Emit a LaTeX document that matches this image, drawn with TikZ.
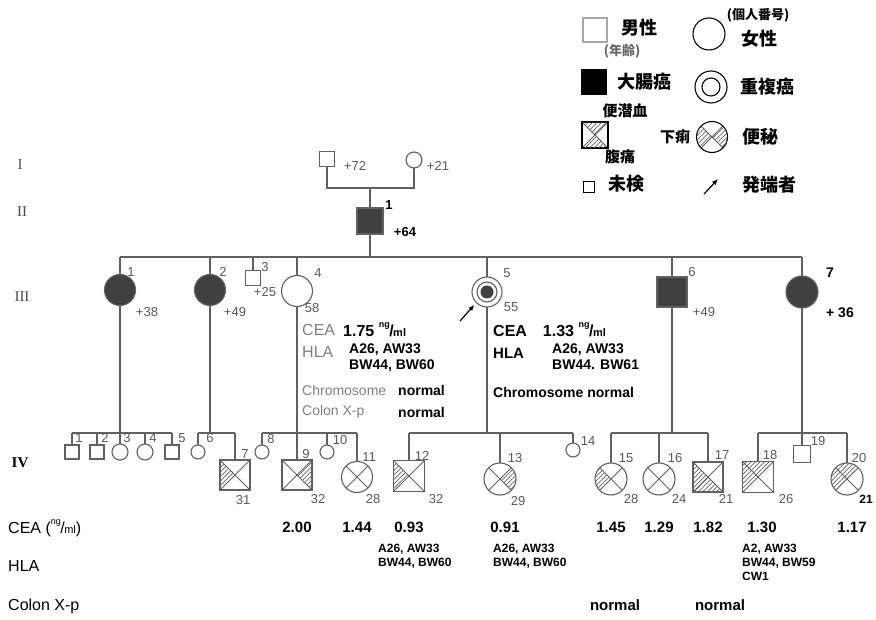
\documentclass[tikz,border=0pt]{standalone}
\usepackage{fontspec}
\setmainfont{Liberation Sans}
\newfontfamily\cjk{Noto Sans CJK JP}
\newfontfamily\romfont{Liberation Serif}
\usepackage{xcolor}
\definecolor{pedline}{gray}{0.38}
\definecolor{affected}{gray}{0.25}
\usetikzlibrary{arrows.meta, patterns.meta, positioning}
\newcommand\ngml{\raisebox{.55em}{\fontsize{9}{9}\selectfont ng}\kern-.5pt/\kern-.5pt{\fontsize{11}{11}\selectfont ml}}

\begin{document}
\begin{tikzpicture}[x=1pt, y=1pt,
	line/.style={draw=pedline, line width=1.1pt},
	male/.style={rectangle, draw=pedline, line width=1.1pt, minimum size=30pt, inner sep=0pt, outer sep=0pt},
	female/.style={circle, draw=pedline, line width=1.1pt, minimum size=31pt, inner sep=0pt, outer sep=0pt},
	small/.style={minimum size=15pt},
	ca/.style={fill=affected},
	xmark/.style={path picture={\draw[pedline, line width=1pt]
		(path picture bounding box.north west) -- (path picture bounding box.south east)
		(path picture bounding box.north east) -- (path picture bounding box.south west);}},
	hatch/.style={pattern={Lines[angle=45, distance=3.2pt, line width=0.7pt]}, pattern color=pedline},
	gen/.style={font=\romfont\fontsize{15}{16}\selectfont, text=black!70},
	lbl/.style={font=\fontsize{13}{14}\selectfont, text=black!65, inner sep=0pt},
	typed/.style={font=\fontsize{16}{18}\selectfont, text=black!50, inner sep=0pt, anchor=west},
	hand/.style={font=\bfseries\fontsize{14}{16}\selectfont, inner sep=0pt, anchor=west},
	hla/.style={font=\bfseries\fontsize{12}{14}\selectfont, inner sep=0pt, anchor=north west, align=left},
	val/.style={font=\bfseries\fontsize{15}{17}\selectfont, inner sep=0pt},
	jp/.style={font=\cjk\bfseries\fontsize{18}{20}\selectfont, inner sep=0pt},
	jps/.style={font=\cjk\bfseries\fontsize{15}{17}\selectfont, inner sep=0pt},
	proband/.style={draw=black, line width=1.2pt, -{Latex[length=6pt, width=5pt]}}
	]
\useasboundingbox (0,0) rectangle (876,-620);

% legend
\node[male, draw=black!35, minimum size=24pt] (lgm) at (595,-30) {};
\node[jp] (lgmt) at (639,-28) {男性};
\node[jps, text=black!60, font=\cjk\bfseries\fontsize{13}{14}\selectfont] (lgma) at (622,-51) {(年齢)};
\node[female, draw=black, minimum size=32pt] (lgf) at (709,-34) {};
\node[jps, font=\cjk\bfseries\fontsize{13}{14}\selectfont] (lgfn) at (758,-15) {(個人番号)};
\node[jp] (lgft) at (759,-39) {女性};
\node[male, draw=black, fill=black, minimum size=25pt] (lga) at (594,-82) {};
\node[jp] (lgat) at (644,-82) {大腸癌};
\node[female, draw=black, minimum size=32pt] (lgd) at (711,-87) {};
\node[female, draw=black, minimum size=18pt] (lgdi) at (lgd) {};
\node[jp] (lgdt) at (767,-87) {重複癌};
\node[jps] (lgxa) at (625,-111) {便潜血};
\node[male, draw=black, xmark, minimum size=26pt] (lgx) at (595,-135) {};
\fill[hatch] (lgx.north west) -- (lgx.center) -- (lgx.north east) -- cycle;
\fill[hatch] (lgx.south west) -- (lgx.center) -- (lgx.south east) -- cycle;
\node[jps] (lgxb) at (620,-157) {腹痛};
\node[jps] (lgcl) at (675,-137) {下痢};
\node[female, draw=black, xmark, minimum size=31pt] (lgc) at (712,-137) {};
\fill[hatch] (lgc.center) -- (lgc.135) arc[start angle=135, end angle=225, radius=15.5pt] -- cycle;
\fill[hatch] (lgc.center) -- (lgc.-45) arc[start angle=-45, end angle=45, radius=15.5pt] -- cycle;
\node[jp] (lgcr) at (760,-137) {便秘};
\node[male, draw=black, minimum size=11pt] (lgu) at (589,-187) {};
\node[jp] (lgut) at (626,-184) {未検};
\coordinate (lgp0) at (704,-194);
\coordinate (lgp1) at (718,-179);
\draw[proband] (lgp0) -- (lgp1);
\node[jp] (lgpt) at (769,-185) {発端者};

% generations
\node[gen] (gI) at (20,-165) {I};
\node[gen] (gII) at (22,-212) {II};
\node[gen] (gIII) at (22,-297) {III};
\node[gen, font=\romfont\bfseries\fontsize{15}{16}\selectfont, text=black] (gIV) at (20,-463) {IV};

% I
\node[male, small] (i1) at (327,-159) {};
\node[female, minimum size=16pt] (i2) at (414,-160) {};
\node[lbl] (i1a) at (355,-166) {+72};
\node[lbl] (i2a) at (438,-166) {+21};
\coordinate (mI) at (370,-188);
\draw[line] (i1.south) |- (mI) -| (i2.south);

% II
\node[male, ca, minimum size=26pt] (ii1) at (370,-221) {};
\node[lbl, text=black, font=\bfseries\fontsize{13}{14}\selectfont] (ii1n) at (389,-205) {1};
\node[lbl, text=black, font=\bfseries\fontsize{13}{14}\selectfont] (ii1a) at (405,-232) {+64};
\draw[line] (mI) -- (ii1.north);
\coordinate (sII) at (370,-257);
\draw[line] (ii1.south) -- (sII);

% III
\node[female, ca] (iii1) at (120,-290) {};
\node[female, ca] (iii2) at (210,-290) {};
\node[male, small] (iii3) at (253,-278) {};
\node[female] (iii4) at (297,-291) {};
\node[female, minimum size=30pt] (iii5) at (487,-292) {};
\node[female, minimum size=20pt] (iii5r) at (iii5) {};
\node[circle, ca, minimum size=13pt, inner sep=0pt] (iii5d) at (iii5) {};
\node[male, ca] (iii6) at (672,-292) {};
\node[female, ca, minimum size=32pt] (iii7) at (802,-292) {};
\draw[line] (iii1.north |- sII) -- (iii7.north |- sII);
\foreach \p in {iii1,iii2,iii3,iii4,iii5,iii6,iii7}
	\draw[line] (\p.north) -- (\p.north |- sII);
\node[lbl] (iii1n) at (131,-272) {1};
\node[lbl] (iii1a) at (147,-312) {+38};
\node[lbl] (iii2n) at (223,-272) {2};
\node[lbl] (iii2a) at (235,-312) {+49};
\node[lbl] (iii3n) at (265,-267) {3};
\node[lbl] (iii3a) at (265,-292) {+25};
\node[lbl] (iii4n) at (318,-273) {4};
\node[lbl] (iii4a) at (312,-308) {58};
\node[lbl] (iii5n) at (507,-273) {5};
\node[lbl] (iii5a) at (511,-307) {55};
\node[lbl] (iii6n) at (692,-272) {6};
\node[lbl] (iii6a) at (704,-312) {+49};
\node[lbl, text=black, font=\bfseries\fontsize{14}{15}\selectfont] (iii7n) at (830,-273) {7};
\node[lbl, text=black, font=\bfseries\fontsize{14}{15}\selectfont] (iii7a) at (840,-313) {+ 36};
\coordinate (pa) at (460,-321);
\draw[proband, shorten >=3pt] (pa) -- (iii5.225);

% findings of III-4 and III-5
\node[typed] (c4) at (302,-330) {CEA};
\node[hand, font=\bfseries\fontsize{16}{18}\selectfont] (c4v) at (343,-330) {1.75 \ngml};
\node[typed] (h4) at (302,-352) {HLA};
\node[hla, font=\bfseries\fontsize{14}{16}\selectfont] (h4v) at (349,-344) {A26, AW33\\BW44, BW60};
\node[typed, font=\fontsize{14}{16}\selectfont] (k4) at (302,-390) {Chromosome};
\node[hand] (k4v) at (398,-390) {normal};
\node[typed, font=\fontsize{14}{16}\selectfont] (x4) at (302,-412) {Colon X-p};
\node[hand] (x4v) at (398,-412) {normal};
\node[hand, font=\bfseries\fontsize{16}{18}\selectfont] (c5) at (493,-330) {CEA\quad 1.33 \ngml};
\node[hand, font=\bfseries\fontsize{15}{17}\selectfont] (h5) at (493,-353) {HLA};
\node[hla, font=\bfseries\fontsize{14}{16}\selectfont] (h5v) at (552,-344) {A26, AW33\\BW44. BW61};
\node[hand] (k5) at (493,-392) {Chromosome normal};

% IV
\coordinate (sA) at (120,-433);
\coordinate (sB) at (210,-433);
\coordinate (sC) at (297,-433);
\coordinate (sD) at (487,-433);
\coordinate (sE) at (672,-433);
\coordinate (sF) at (802,-433);
\node[male, minimum size=14pt] (iv1) at (72,-452) {};
\node[male, minimum size=14pt] (iv2) at (97,-452) {};
\node[female, minimum size=16pt] (iv3) at (120,-452) {};
\node[female, minimum size=16pt] (iv4) at (145,-452) {};
\node[male, minimum size=14pt] (iv5) at (172,-452) {};
\node[female, minimum size=14pt] (iv6) at (198,-452) {};
\node[male, xmark] (iv7) at (235,-475) {};
\node[female, minimum size=14pt] (iv8) at (262,-452) {};
\node[male, xmark] (iv9) at (297,-475) {};
\node[female, minimum size=14pt] (iv10) at (327,-452) {};
\node[female, xmark] (iv11) at (357,-477) {};
\node[male, xmark, minimum size=31pt] (iv12) at (409,-476) {};
\node[female, xmark, minimum size=32pt] (iv13) at (500,-479) {};
\node[female, minimum size=14pt] (iv14) at (573,-450) {};
\node[female, xmark, minimum size=32pt] (iv15) at (611,-479) {};
\node[female, xmark, minimum size=32pt] (iv16) at (659,-479) {};
\node[male, xmark] (iv17) at (708,-477) {};
\node[male, xmark, minimum size=31pt] (iv18) at (758,-477) {};
\node[male, minimum size=17pt] (iv19) at (802,-454) {};
\node[female, xmark, minimum size=32pt] (iv20) at (847,-479) {};

\fill[hatch] (iv7.north west) -- (iv7.center) -- (iv7.south west) -- cycle;
\fill[hatch] (iv9.north east) -- (iv9.center) -- (iv9.south east) -- cycle;
\fill[hatch] (iv12.north west) -- (iv12.center) -- (iv12.south west) -- cycle;
\fill[hatch] (iv13.center) -- (iv13.-45) arc[start angle=-45, end angle=45, radius=16pt] -- cycle;
\fill[hatch] (iv15.center) -- (iv15.135) arc[start angle=135, end angle=225, radius=16pt] -- cycle;
\fill[hatch] (iv17.north west) -- (iv17.center) -- (iv17.south west) -- cycle;
\fill[hatch] (iv17.south west) -- (iv17.center) -- (iv17.south east) -- cycle;
\fill[hatch] (iv18.north west) -- (iv18.center) -- (iv18.south west) -- cycle;
\fill[hatch] (iv18.north west) -- (iv18.center) -- (iv18.north east) -- cycle;
\fill[hatch] (iv20.center) -- (iv20.135) arc[start angle=135, end angle=225, radius=16pt] -- cycle;
\fill[hatch] (iv20.center) -- (iv20.45) arc[start angle=45, end angle=135, radius=16pt] -- cycle;

\draw[line] (iii1.south) -- (sA);
\draw[line] (iv1.north |- sA) -- (iv5.north |- sA);
\foreach \c in {iv1,iv2,iv3,iv4,iv5}
	\draw[line] (\c.north) -- (\c.north |- sA);
\draw[line] (iii2.south) -- (sB);
\draw[line] (iv6.north |- sB) -- (iv7.north |- sB);
\foreach \c in {iv6,iv7}
	\draw[line] (\c.north) -- (\c.north |- sB);
\draw[line] (iii4.south) -- (sC);
\draw[line] (iv8.north |- sC) -- (iv11.north |- sC);
\foreach \c in {iv8,iv9,iv10,iv11}
	\draw[line] (\c.north) -- (\c.north |- sC);
\draw[line] (iii5.south) -- (sD);
\draw[line] (iv12.north |- sD) -- (iv14.north |- sD);
\foreach \c in {iv12,iv13,iv14}
	\draw[line] (\c.north) -- (\c.north |- sD);
\draw[line] (iii6.south) -- (sE);
\draw[line] (iv15.north |- sE) -- (iv17.north |- sE);
\foreach \c in {iv15,iv16,iv17}
	\draw[line] (\c.north) -- (\c.north |- sE);
\draw[line] (iii7.south) -- (sF);
\draw[line] (iv18.north |- sF) -- (iv20.north |- sF);
\foreach \c in {iv18,iv19,iv20}
	\draw[line] (\c.north) -- (\c.north |- sF);

% numbers and ages of IV
\node[lbl] (iv1n) at (79,-438) {1};
\node[lbl] (iv2n) at (105,-438) {2};
\node[lbl] (iv3n) at (127,-438) {3};
\node[lbl] (iv4n) at (153,-438) {4};
\node[lbl] (iv5n) at (182,-438) {5};
\node[lbl] (iv6n) at (210,-438) {6};
\node[lbl] (iv7n) at (245,-454) {7};
\node[lbl] (iv7a) at (243,-500) {31};
\node[lbl] (iv8n) at (271,-439) {8};
\node[lbl] (iv9n) at (306,-454) {9};
\node[lbl] (iv9a) at (318,-499) {32};
\node[lbl] (iv10n) at (340,-440) {10};
\node[lbl] (iv11n) at (369,-457) {11};
\node[lbl] (iv11a) at (373,-499) {28};
\node[lbl] (iv12n) at (422,-456) {12};
\node[lbl] (iv12a) at (436,-499) {32};
\node[lbl] (iv13n) at (515,-458) {13};
\node[lbl] (iv13a) at (518,-501) {29};
\node[lbl] (iv14n) at (588,-441) {14};
\node[lbl] (iv15n) at (626,-458) {15};
\node[lbl] (iv15a) at (631,-499) {28};
\node[lbl] (iv16n) at (675,-458) {16};
\node[lbl] (iv16a) at (679,-499) {24};
\node[lbl] (iv17n) at (722,-455) {17};
\node[lbl] (iv17a) at (726,-499) {21};
\node[lbl] (iv18n) at (770,-455) {18};
\node[lbl] (iv18a) at (786,-499) {26};
\node[lbl] (iv19n) at (818,-441) {19};
\node[lbl] (iv20n) at (859,-458) {20};
\node[lbl, text=black, font=\bfseries\fontsize{12}{13}\selectfont] (iv20a) at (866,-499) {21};

% data rows
\coordinate (rcea) at (0,-527);
\coordinate (rhla) at (0,-544);
\coordinate (rcol) at (0,-605);
\node[hand, font=\fontsize{16}{18}\selectfont] (tcea) at (8,-528) {CEA (\ngml)};
\node[hand, font=\fontsize{16}{18}\selectfont] (thla) at (8,-566) {HLA};
\node[hand, font=\fontsize{16}{18}\selectfont] (tcol) at (8,-606) {Colon X-p};
\node[val] (v9) at (iv9 |- rcea) {2.00};
\node[val] (v11) at (iv11 |- rcea) {1.44};
\node[val] (v12) at (iv12 |- rcea) {0.93};
\node[val] (v13) at (505,-527) {0.91};
\node[val] (v15) at (iv15 |- rcea) {1.45};
\node[val] (v16) at (iv16 |- rcea) {1.29};
\node[val] (v17) at (iv17 |- rcea) {1.82};
\node[val] (v18) at (762,-527) {1.30};
\node[val] (v20) at (852,-527) {1.17};
\node[hla] (hv12) at (378,-544) {A26, AW33\\BW44, BW60};
\node[hla] (hv13) at (493,-544) {A26, AW33\\BW44, BW60};
\node[hla] (hv18) at (742,-544) {A2, AW33\\BW44, BW59\\CW1};
\node[val] (x15) at (615,-605) {normal};
\node[val] (x17) at (720,-605) {normal};
\end{tikzpicture}
\end{document}
